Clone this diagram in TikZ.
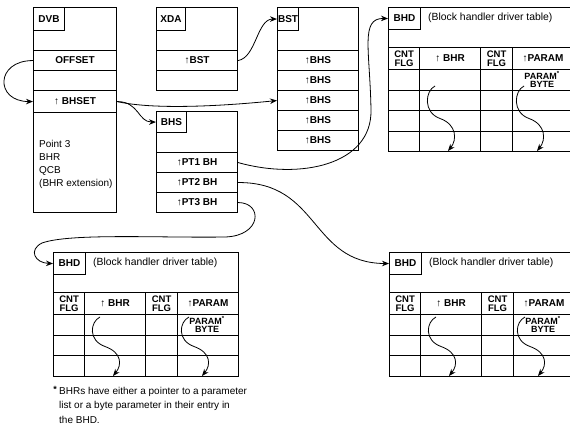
\documentclass[tikz,border=0pt]{standalone}
\usepackage{fontspec}
\setmainfont{Liberation Sans}
\usetikzlibrary{arrows.meta}

\begin{document}
\begin{tikzpicture}[x=1pt, y=-1pt, >={Stealth[length=7pt,width=5.5pt]},
    cell/.style n args={2}{draw, line width=1.1pt, anchor=north west, inner sep=0pt,
        minimum width=#1, minimum height=#2, font=\bfseries\fontsize{10}{10}\selectfont},
    wire/.style={line width=0.8pt},
    txt/.style={anchor=north west, inner sep=0pt, align=left, font=\fontsize{10}{13}\selectfont}]
    \useasboundingbox (0,0) rectangle (570,427);
    \clip (0,0) rectangle (570,427);

    % 1. DVB
    \node[cell={83pt}{205pt}] (dvb) at (33,7) {};
    \node[cell={31pt}{23pt}] (dvblbl) at (33,7) {DVB};
    \node[cell={83pt}{20pt}] (offset) at (33,50) {OFFSET};
    \node[cell={83pt}{20pt}] (dvbgap) at (33,70) {};
    \node[cell={83pt}{22pt}] (bhset) at (33,90) {↑ BHSET};
    \node[txt] (dvbtxt) at (39,140) {Point 3\\BHR\\QCB\\(BHR extension)};

    % 2. XDA
    \node[cell={81pt}{83pt}] (xda) at (156,7) {};
    \node[cell={29pt}{23pt}] (xdalbl) at (156,7) {XDA};
    \node[cell={81pt}{20pt}] (bstptr) at (156,50) {↑BST};

    % 3. BST
    \node[cell={81pt}{143pt}] (bst) at (277,7) {};
    \node[cell={21pt}{23pt}] (bstlbl) at (277,7) {BST};
    \foreach \r in {1,...,5}
        \node[cell={81pt}{20pt}] (bhs\r) at (277,{30+20*\r}) {↑BHS};

    % 4. BHS
    \node[cell={81pt}{101pt}] (bhs) at (156,111) {};
    \node[cell={30pt}{21pt}] (bhslbl) at (156,111) {BHS};
    \node[cell={81pt}{20pt}] (pt1) at (156,152) {↑PT1 BH};
    \node[cell={81pt}{20pt}] (pt2) at (156,172) {↑PT2 BH};
    \node[cell={81pt}{20pt}] (pt3) at (156,192) {↑PT3 BH};

    % 5. BHD tables (A top right, B lower left, C lower right)
    \foreach \tb/\tx/\ty/\nr/\hb/\sa/\sb in {A/388/7/4/144/79/144, B/53/252/3/124/65/124, C/389/252/3/124/65/124} {
        \pgfmathsetmacro\md{(\sa+\sb)/2}
        \node[cell={185pt}{\hb pt}] (bhd\tb) at (\tx,\ty) {};
        \node[cell={32pt}{22pt}] (bhd\tb-lbl) at (\tx,\ty) {BHD};
        \node[anchor=west, inner sep=0pt, font=\fontsize{10.4}{12}\selectfont] (bhd\tb-ttl) at (\tx+40,\ty+11) {(Block handler driver table)};
        \node[cell={31pt}{22pt}, align=center, font=\bfseries\fontsize{9.5}{9}\selectfont] (bhd\tb-h1) at (\tx,\ty+40) {CNT\\FLG};
        \node[cell={61pt}{22pt}] (bhd\tb-h2) at (\tx+31,\ty+40) {↑ BHR};
        \node[cell={32pt}{22pt}, align=center, font=\bfseries\fontsize{9.5}{9}\selectfont] (bhd\tb-h3) at (\tx+92,\ty+40) {CNT\\FLG};
        \node[cell={61pt}{22pt}] (bhd\tb-h4) at (\tx+124,\ty+40) {↑PARAM};
        \foreach \ro/\rh [count=\r] in {62/21,83/20,103/21,124/20} {
            \ifnum\r>\nr\else
            \foreach \cx/\cw [count=\c] in {0/31,31/61,92/32,124/61}
                \node[cell={\cw pt}{\rh pt}] (bhd\tb-\r-\c) at (\tx+\cx,\ty+\ro) {};
            \fi
        }
        \node[inner sep=0pt, align=center, font=\bfseries\fontsize{9}{8.5}\selectfont] (bhd\tb-prm) at (\tx+154,\ty+72.5) {PARAM\textsuperscript{*}\\BYTE};
        \foreach \ox in {0,89}
            \draw[wire, ->] (\tx+\ox+47,\ty+\sa) .. controls +(-10,5) and +(-17,-6) .. (\tx+\ox+52,\ty+\md)
                .. controls +(17,6) and +(9,-11) .. (\tx+\ox+60,\ty+\sb);
    }

    % 6. pointers between blocks
    \draw[wire, ->] (offset.west) .. controls +(-38,0) and +(-38,0) .. (bhset.west);
    \draw[wire, ->] (bhset.east) .. controls +(35,8) and +(-60,6) .. (bhs3.west);
    \draw[wire, ->] (bhset.east) .. controls +(22,0) and +(-18,0) .. (bhslbl.west);
    \draw[wire, ->] (bstptr.east) .. controls +(18,-3) and +(-20,0) .. (bstlbl.west);
    \draw[wire, ->] (pt1.east) .. controls (300,180) and (372,165) .. (371,110)
        .. controls (370,50) and (360,18) .. (bhdA-lbl.west);
    \draw[wire, ->] (pt2.east) .. controls (320,182) and (310,263) .. (bhdC-lbl.west);
    \draw[wire, ->] (pt3.east) .. controls +(25,0) and (262,236) .. (225,237)
        .. controls (160,238) and (70,233) .. (42,243)
        .. controls (28,250) and (35,263) .. (bhdB-lbl.west);

    % 7. footnote
    \node[anchor=north east, inner sep=0pt, font=\bfseries\fontsize{9}{9}\selectfont] (star) at (57,386) {*};
    \node[txt, font=\fontsize{10}{14.5}\selectfont] (note) at (59,387) {BHRs have either a pointer to a parameter\\list or a byte parameter in their entry in\\the BHD.};
\end{tikzpicture}
\end{document}
